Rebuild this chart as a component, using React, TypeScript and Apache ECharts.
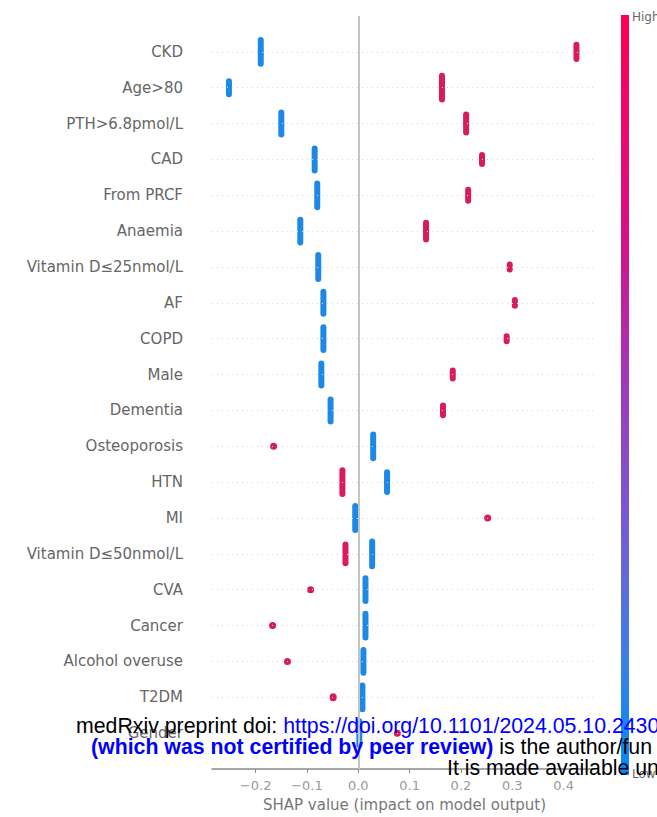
import React, { useEffect, useRef } from "react";
import * as echarts from "echarts";

const features = [
  "CKD", "Age>80", "PTH>6.8pmol/L", "CAD", "From PRCF", "Anaemia",
  "Vitamin D≤25nmol/L", "AF", "COPD", "Male", "Dementia", "Osteoporosis",
  "HTN", "MI", "Vitamin D≤50nmol/L", "CVA", "Cancer", "Alcohol overuse",
  "T2DM", "Gender",
];
// SHAP values of the low-feature-value cluster (blue) and its vertical spread (in rows)
const lowShap = [-0.19, -0.252, -0.15, -0.085, -0.08, -0.113, -0.078, -0.068, -0.068, -0.072,
  -0.054, 0.029, 0.056, -0.006, 0.027, 0.014, 0.014, 0.01, 0.008, 0.002];
const lowSpread = [0.83, 0.53, 0.78, 0.78, 0.83, 0.8, 0.83, 0.78, 0.8, 0.78,
  0.78, 0.83, 0.72, 0.83, 0.86, 0.8, 0.83, 0.8, 0.83, 0.83];
// SHAP values of the high-feature-value cluster (red) and its vertical spread (in rows)
const highShap = [0.425, 0.163, 0.21, 0.241, 0.214, 0.132, 0.295, 0.305, 0.289, 0.184,
  0.165, -0.165, -0.031, 0.252, -0.025, -0.093, -0.167, -0.138, -0.049, 0.076];
const highSpread = [0.56, 0.83, 0.67, 0.42, 0.47, 0.64, 0.31, 0.33, 0.31, 0.39,
  0.44, 0.19, 0.83, 0.19, 0.69, 0.19, 0.19, 0.19, 0.22, 0.19];
const xTicks = [-0.2, -0.1, 0.0, 0.1, 0.2, 0.3, 0.4];

const BLUE = "#1e88e5";
const RED = "#d81b5c";
const LABEL_FONT = "DejaVu Sans";
const WM_FONT = "Liberation Sans";

const n = features.length;
const rowOf = (i: number) => n - 1 - i;

function makeRender(color: string) {
  return (params: any, api: any) => {
    const x = api.value(0);
    const y = api.value(1);
    const s = api.value(2);
    const c = api.coord([x, y]);
    const dot = s < 0.25;
    const w = dot ? 7 : 6;
    const h = Math.max(api.size([0, s])[1], w);
    return {
      type: "rect",
      shape: { x: c[0] - w / 2, y: c[1] - h / 2, width: w, height: h, r: w / 2 },
      style: { fill: color },
    };
  };
}

export default function App() {
  const ref = useRef<HTMLDivElement>(null);
  useEffect(() => {
    if (!ref.current) return;
    const chart = echarts.init(ref.current, null, { renderer: "svg" });
    const lowData = features.map((_, i) => [lowShap[i], rowOf(i), lowSpread[i]]);
    const highData = features.map((_, i) => [highShap[i], rowOf(i), highSpread[i]]);
    const fmt = (v: number) => {
      const s = Math.abs(v).toFixed(1);
      return v < -1e-9 ? "\u2212" + s : s;
    };
    chart.setOption({
      animation: false,
      backgroundColor: "#ffffff",
      grid: { left: 212, right: 60, top: 16, bottom: 44, containLabel: false },
      xAxis: {
        type: "value",
        min: -0.285,
        max: 0.465,
        splitLine: { show: false },
        axisLine: { show: true, onZero: false, lineStyle: { color: "#8a8a8a", width: 1.5 } },
        axisTick: { show: true, customValues: xTicks, length: 4, lineStyle: { color: "#8a8a8a" } },
        axisLabel: {
          customValues: xTicks,
          formatter: fmt,
          color: "#999",
          fontFamily: LABEL_FONT,
          fontSize: 13,
          margin: 10,
        },
        name: "SHAP value (impact on model output)",
        nameLocation: "middle",
        nameGap: 28,
        nameTextStyle: { color: "#777", fontFamily: LABEL_FONT, fontSize: 15 },
      },
      yAxis: {
        type: "value",
        min: -1,
        max: n,
        interval: 1,
        splitLine: { show: false },
        axisLine: { show: false },
        axisTick: { show: false },
        axisLabel: {
          margin: 29,
          color: "#666",
          fontFamily: LABEL_FONT,
          fontSize: 15,
          formatter: (v: number) => {
            const i = n - 1 - Math.round(v);
            return i >= 0 && i < n ? features[i] : "";
          },
        },
      },
      series: [
        {
          type: "line",
          data: [],
          z: 1,
          silent: true,
          markLine: {
            silent: true,
            symbol: "none",
            label: { show: false },
            animation: false,
            data: [
              ...features.map((_, i) => ({
                yAxis: rowOf(i),
                lineStyle: { color: "#d6d6d6", width: 1, type: [1, 4] },
              })),
              { xAxis: 0, lineStyle: { color: "#c4c4c4", width: 2, type: "solid" } },
            ],
          },
        },
        {
          type: "custom",
          z: 3,
          renderItem: makeRender(BLUE),
          data: lowData,
          encode: { x: 0, y: 1 },
        },
        {
          type: "custom",
          z: 3,
          renderItem: makeRender(RED),
          data: highData,
          encode: { x: 0, y: 1 },
        },
      ],
      graphic: [
        {
          type: "rect",
          shape: { x: 621, y: 15, width: 8, height: 760 },
          style: {
            fill: new echarts.graphic.LinearGradient(0, 0, 0, 1, [
              { offset: 0, color: "#ff0052" },
              { offset: 0.3, color: "#d4128a" },
              { offset: 0.5, color: "#9c3cc0" },
              { offset: 0.7, color: "#7060d8" },
              { offset: 0.85, color: "#3a80e6" },
              { offset: 1, color: "#008bfb" },
            ]),
          },
          z: 5,
        },
        {
          type: "text",
          x: 632,
          y: 17,
          style: { text: "High", fill: "#666", font: `12px ${LABEL_FONT}`, verticalAlign: "middle" },
          z: 5,
        },
        {
          type: "text",
          x: 632,
          y: 774,
          style: { text: "Low", fill: "#666", font: `12px ${LABEL_FONT}`, verticalAlign: "middle" },
          z: 5,
        },
        {
          type: "text",
          x: 76,
          y: 725.6,
          z: 10,
          style: {
            text: "{a|medRxiv preprint doi: }{b|https://doi.org/10.1101/2024.05.10.2430}",
            verticalAlign: "middle",
            rich: {
              a: { fill: "#000", fontSize: 21.3, fontFamily: WM_FONT },
              b: { fill: "#0000ff", fontSize: 21.3, fontFamily: WM_FONT },
            },
          },
        },
        {
          type: "text",
          x: 91,
          y: 746.6,
          z: 10,
          style: {
            text: "{b|(which was not certified by peer review)}{a| is the author/fun}",
            verticalAlign: "middle",
            rich: {
              a: { fill: "#000", fontSize: 21.3, fontFamily: WM_FONT },
              b: { fill: "#0000ff", fontSize: 21.3, fontFamily: WM_FONT, fontWeight: "bold" },
            },
          },
        },
        {
          type: "text",
          x: 447,
          y: 767.6,
          z: 10,
          style: {
            text: "It is made available un",
            fill: "#000",
            font: `21.3px ${WM_FONT}`,
            verticalAlign: "middle",
          },
        },
      ],
    });
    return () => chart.dispose();
  }, []);
  return (
    <div
      ref={ref}
      style={{ position: "fixed", left: 0, top: 0, width: 657, height: 817, background: "#fff" }}
    />
  );
}
